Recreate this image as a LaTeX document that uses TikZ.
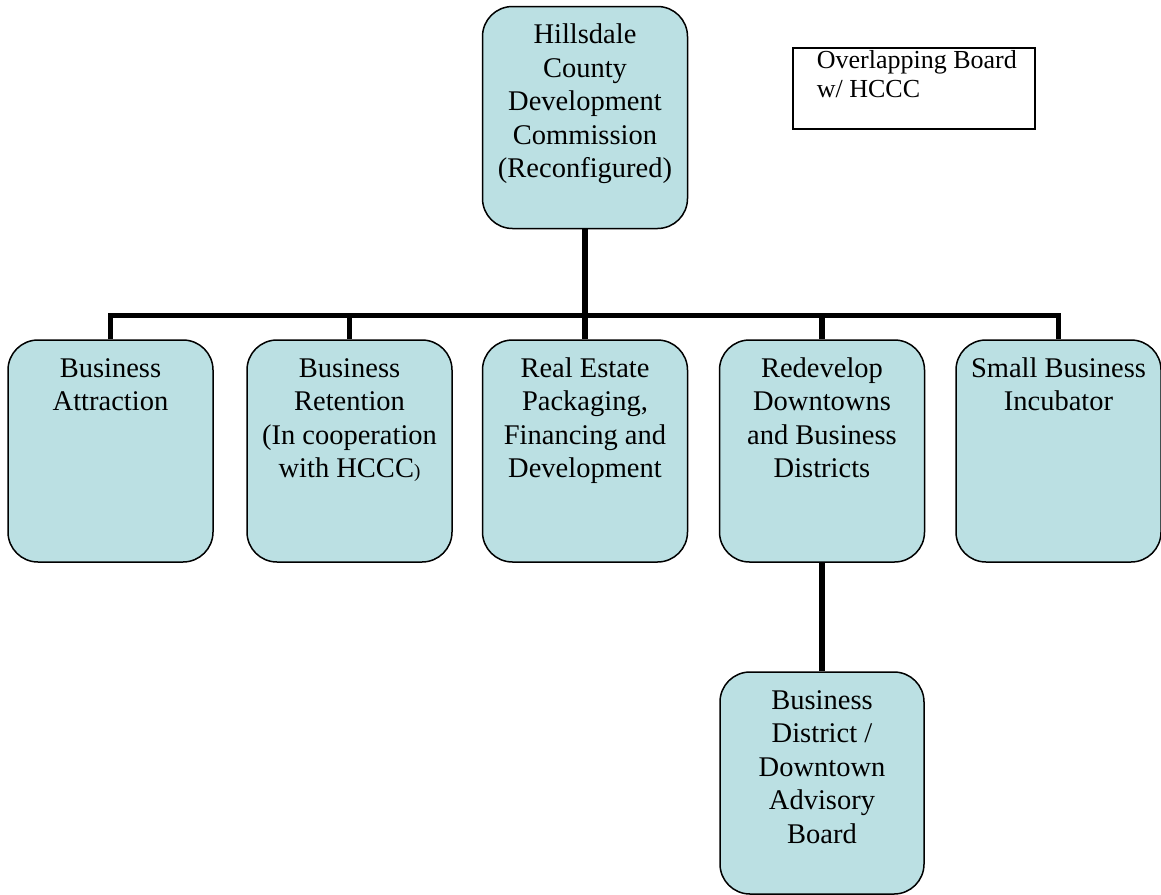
\documentclass[tikz,border=0pt]{standalone}
\usepackage{fontspec}
\setmainfont{Liberation Serif}
\definecolor{boxfill}{RGB}{187,224,227}
\newcommand{\boxtxt}[2][194pt]{\parbox[c][#1][t]{197pt}{\centering\fontsize{28.5pt}{33.5pt}\selectfont\strut #2}}
\begin{document}
\begin{tikzpicture}[x=1pt,y=-1pt,
  orgbox/.style={draw=black, line width=1.5pt, fill=boxfill, rounded corners=30pt,
    inner sep=0pt, minimum width=205pt, minimum height=222pt},
  conn/.style={draw=black, line width=5.5pt, line join=miter},
  notebox/.style={draw=black, line width=1.6pt, fill=white, inner sep=0pt, anchor=north west}]
\useasboundingbox (0,0) rectangle (1161,894);
\node[orgbox] (top) at (585,117.5) {\boxtxt{Hillsdale\\County\\Development\\Commission\\(Reconfigured)}};
\node[orgbox] (a) at (110.5,451) {\boxtxt{Business\\Attraction}};
\node[orgbox] (b) at (349.5,451) {\boxtxt{Business\\Retention\\(In cooperation\\with HCCC{\fontsize{19pt}{20pt}\selectfont)}}};
\node[orgbox] (c) at (585,451) {\boxtxt{Real Estate\\Packaging,\\Financing and\\Development}};
\node[orgbox] (d) at (822,451) {\boxtxt{Redevelop\\Downtowns\\and Business\\Districts}};
\node[orgbox] (e) at (1058.5,451) {\boxtxt{Small Business\\Incubator}};
\node[orgbox, minimum width=204pt] (f) at (822,783) {\boxtxt{Business\\District /\\Downtown\\Advisory\\Board}};
\node[notebox] (note) at (792,47) {\parbox[c][81pt][t]{242pt}{\leftskip=24pt\fontsize{26pt}{29pt}\selectfont\strut Overlapping Board\\w/ HCCC}};
\coordinate (bus) at (585,315.5);
\draw[conn] (top.south) -- (bus);
\draw[conn] (a.north) -- (a.north |- bus) -- (e.north |- bus) -- (e.north);
\draw[conn] (b.north |- bus) -- (b.north);
\draw[conn] (c.north |- bus) -- (c.north);
\draw[conn] (d.north |- bus) -- (d.north);
\draw[conn] (d.south) -- (f.north);
\end{tikzpicture}
\end{document}
